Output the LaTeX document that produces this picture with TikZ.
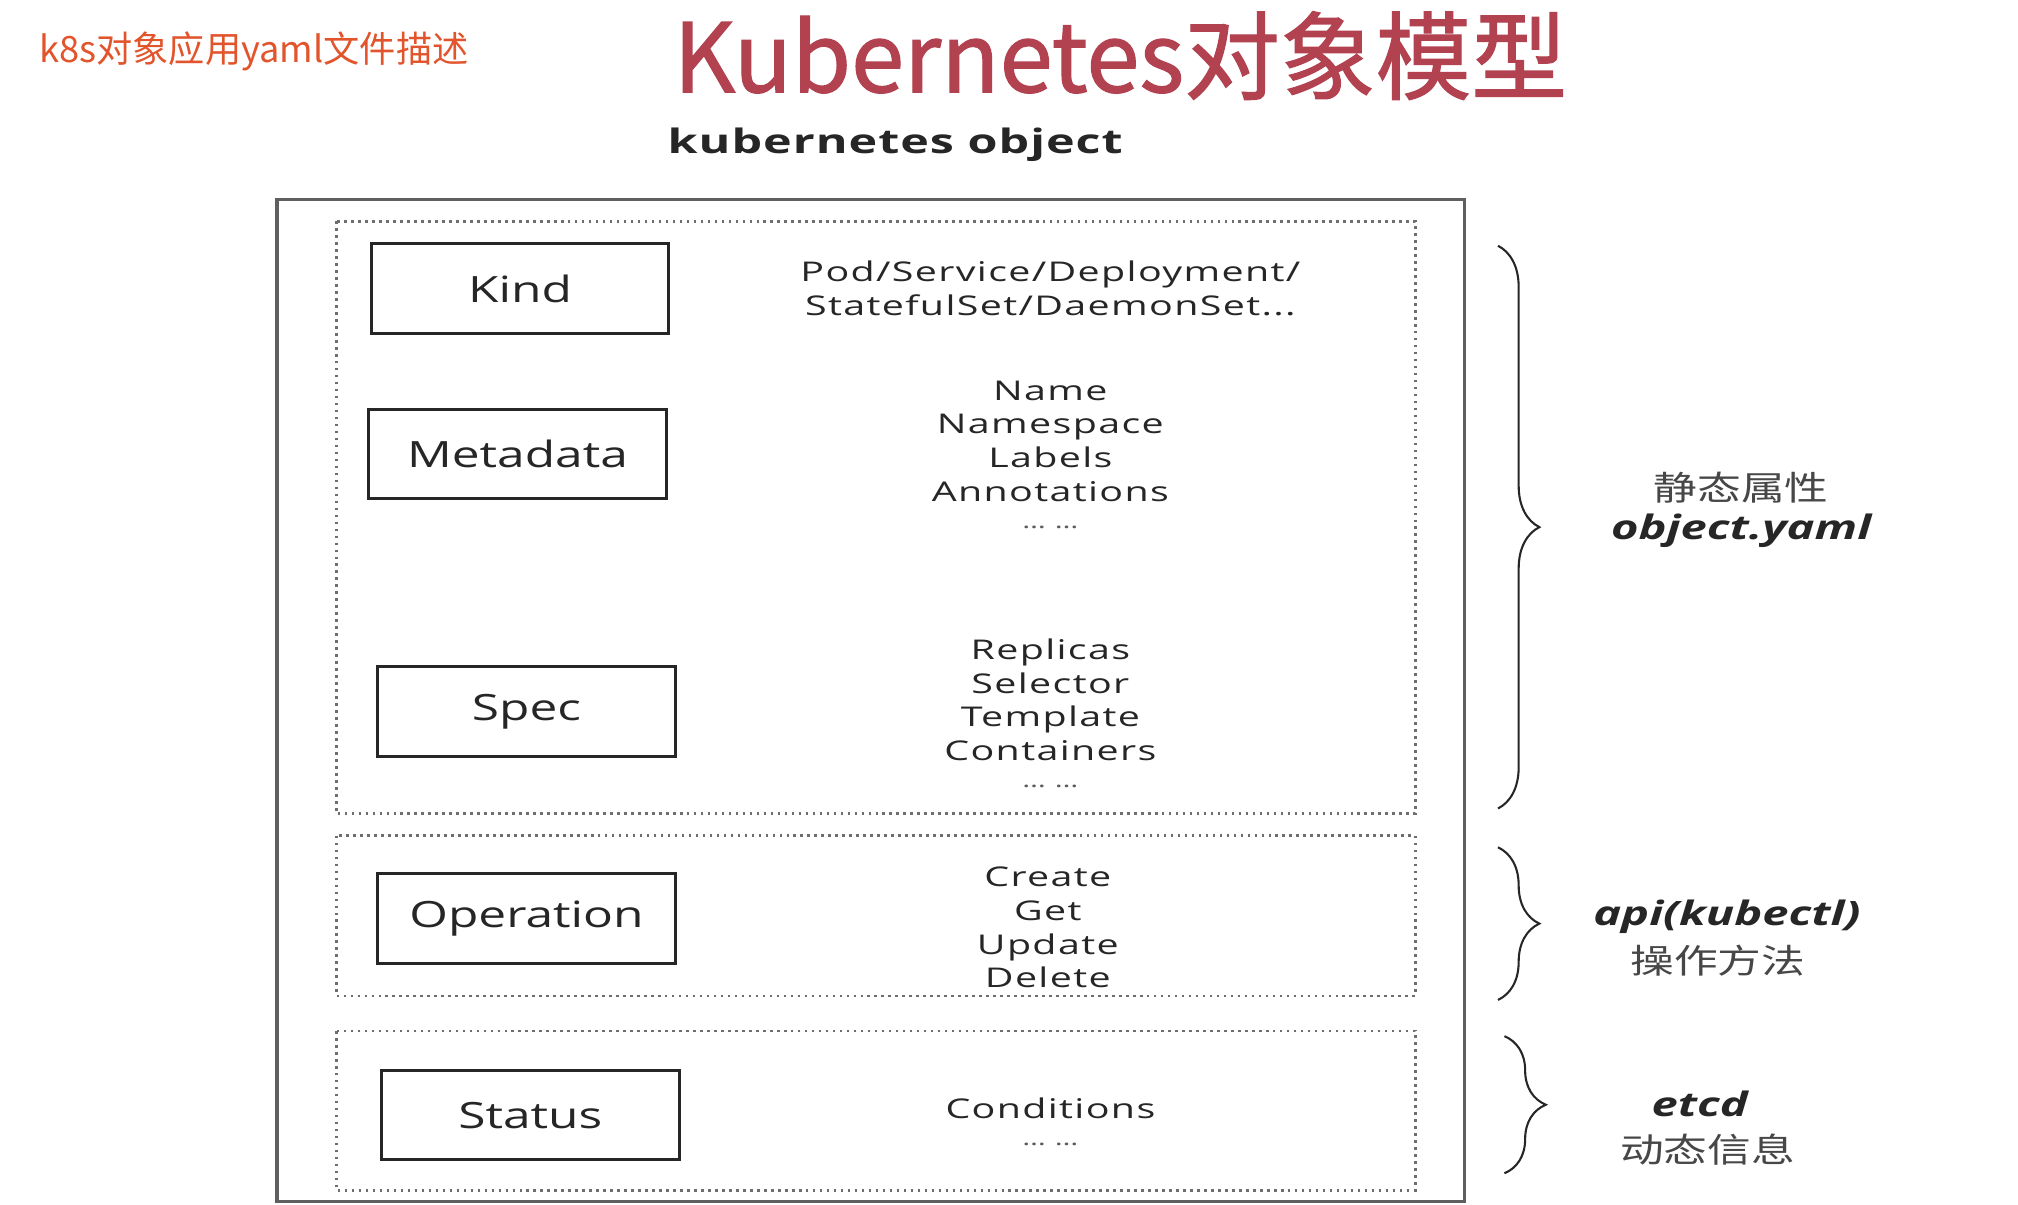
\documentclass[tikz,border=0pt]{standalone}
\usepackage{fontspec}
\usepackage{graphicx}
\usetikzlibrary{decorations.pathreplacing}
\setmainfont{Open Sans}
\newfontfamily\cjk{Noto Sans CJK SC}
\newfontfamily\titlefont[FakeBold=1.2]{Noto Sans CJK SC}
\newfontfamily\cjkwide[FakeStretch=1.3]{Noto Sans CJK SC}
\newfontfamily\boxfont[FakeStretch=1.37]{Open Sans}
\newfontfamily\itemfont[FakeStretch=1.45,LetterSpace=5]{Open Sans}
\newfontfamily\headfont[FakeStretch=1.44,LetterSpace=3]{Open Sans}
\newfontfamily\rlabfont[FakeStretch=1.4]{Open Sans}
\definecolor{titlered}{RGB}{178,66,80}
\definecolor{orangetxt}{RGB}{226,84,44}
\definecolor{txtdark}{RGB}{38,38,38}
\definecolor{framegray}{RGB}{95,95,95}
\definecolor{dotgray}{RGB}{110,110,110}
\tikzset{
  kbox/.style={draw=txtdark, line width=1.2pt, minimum width=115pt, minimum height=34.5pt,
    inner sep=0pt, font=\boxfont\fontsize{14pt}{16pt}\selectfont, text=txtdark},
  items/.style={align=center, inner sep=0pt, text=txtdark,
    font=\itemfont\fontsize{10.5pt}{13pt}\selectfont},
  dots/.style={inner sep=0pt, text=txtdark!75, font=\itemfont\fontsize{8pt}{9pt}\selectfont},
  dotbox/.style={draw=dotgray, line width=1.1pt, dash pattern=on 1pt off 1.7pt},
  rbrace/.style={draw=txtdark, line width=0.8pt, decorate,
    decoration={brace, amplitude=16pt}},
  cjklab/.style={inner sep=0pt, text=txtdark!85, font=\cjkwide\fontsize{13pt}{15pt}\selectfont},
  itlab/.style={inner sep=0pt, text=txtdark, font=\rlabfont\bfseries\itshape\fontsize{13pt}{15pt}\selectfont},
}
\begin{document}
\begin{tikzpicture}[x=0.5pt,y=-0.5pt]
\useasboundingbox (0,0) rectangle (1560,931);
\fill[white] (0,0) rectangle (1560,931);

% headings
\node[anchor=west, inner sep=0pt, text=orangetxt, font=\cjk\fontsize{14pt}{16pt}\selectfont]
  (sub) at (30,40) {k8s对象应用yaml文件描述};
\node[inner sep=0pt, text=titlered, font=\titlefont\fontsize{37pt}{40pt}\selectfont]
  (title) at (866,43) {Kubernetes对象模型};
\node[inner sep=0pt, text=txtdark, font=\headfont\bfseries\fontsize{13pt}{15pt}\selectfont]
  (objhead) at (692,112) {kubernetes object};

% frames
\draw[framegray, line width=1.3pt] (214,154) rectangle (1132,929);
\draw[dotbox] (260,171) rectangle (1094,629);
\draw[dotbox] (260,646) rectangle (1094,770);
\draw[dotbox] (260,797) rectangle (1094,920);

% left boxes
\node[kbox] (kind) at (402,223) {Kind};
\node[kbox] (meta) at (400,351) {Metadata};
\node[kbox] (spec) at (407,550) {Spec};
\node[kbox] (oper) at (407,710) {Operation};
\node[kbox] (stat) at (410,862) {Status};

% item texts
\node[items] (kindtxt) at (812,223) {Pod/Service/Deployment/\\StatefulSet/DaemonSet...};
\node[items] (metatxt) at (812,341) {Name\\Namespace\\Labels\\Annotations};
\node[dots] (metadots) at (812,408) {… …};
\node[items] (spectxt) at (812,541) {Replicas\\Selector\\Template\\Containers};
\node[dots] (specdots) at (812,608) {… …};
\node[items] (opertxt) at (810,717) {Create\\Get\\Update\\Delete};
\node[items] (stattxt) at (812,857) {Conditions};
\node[dots] (statdots) at (812,885) {… …};

% braces
\coordinate (b1t) at (1158,190); \coordinate (b1b) at (1158,625);
\coordinate (b2t) at (1158,655); \coordinate (b2b) at (1158,773);
\coordinate (b3t) at (1163,801); \coordinate (b3b) at (1163,907);
\draw[rbrace] (b1t) -- (b1b);
\draw[rbrace] (b2t) -- (b2b);
\draw[rbrace] (b3t) -- (b3b);

% right labels
\node[cjklab] (l1a) at (1346,377) {静态属性};
\node[itlab] (l1b) at (1346,410) {object.yaml};
\node[itlab] (l2a) at (1335,709) {api(kubectl)};
\node[cjklab] (l2b) at (1328,743) {操作方法};
\node[itlab] (l3a) at (1314,853) {etcd};
\node[cjklab] (l3b) at (1320,889) {动态信息};
\end{tikzpicture}
\end{document}
